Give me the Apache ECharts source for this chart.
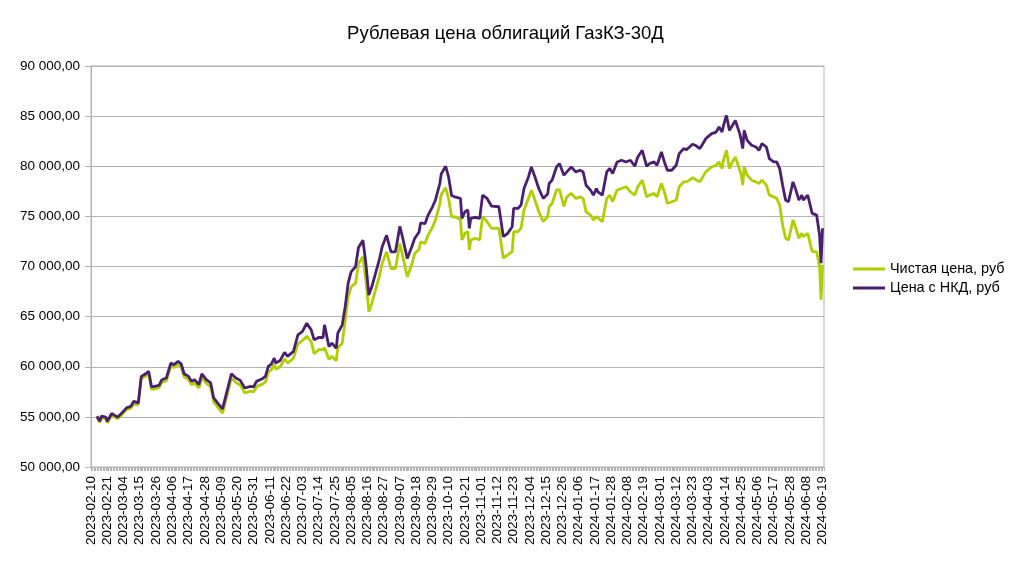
<!DOCTYPE html>
<html><head><meta charset="utf-8">
<script src="https://cdn.jsdelivr.net/npm/echarts@6/dist/echarts.min.js"></script>
<style>html,body{margin:0;padding:0;background:#fff}#c{width:1011px;height:568px}</style>
</head><body><div id="c"></div>
<script>
const chartTitle = 'Рублевая цена облигаций ГазКЗ-30Д';
const seriesNames = ['Чистая цена, руб', 'Цена с НКД, руб'];
const axisStart = '2023-02-10';
const axisEnd = '2024-06-20';
const yMin = 50000, yMax = 90000, yStep = 5000;

const dates = [
'2023-02-14','2023-02-16','2023-02-17','2023-02-20','2023-02-21','2023-02-24','2023-02-28','2023-03-01','2023-03-03','2023-03-06',
'2023-03-09','2023-03-11','2023-03-14','2023-03-16','2023-03-19','2023-03-21','2023-03-23','2023-03-25','2023-03-28','2023-03-30',
'2023-04-02','2023-04-05','2023-04-07','2023-04-10','2023-04-12','2023-04-14','2023-04-17','2023-04-19','2023-04-21','2023-04-24',
'2023-04-26','2023-04-29','2023-05-02','2023-05-04','2023-05-07','2023-05-10','2023-05-13','2023-05-16','2023-05-19','2023-05-22',
'2023-05-25','2023-05-29','2023-05-31','2023-06-02','2023-06-06','2023-06-08','2023-06-10','2023-06-12','2023-06-14','2023-06-15',
'2023-06-18','2023-06-21','2023-06-23','2023-06-27','2023-06-30','2023-07-03','2023-07-06','2023-07-09','2023-07-11','2023-07-14',
'2023-07-17','2023-07-18','2023-07-21','2023-07-23','2023-07-26','2023-07-27','2023-07-30','2023-08-01','2023-08-03','2023-08-05',
'2023-08-08','2023-08-10','2023-08-13','2023-08-15','2023-08-17','2023-08-19','2023-08-24','2023-08-26','2023-08-29','2023-09-01',
'2023-09-04','2023-09-07','2023-09-09','2023-09-12','2023-09-15','2023-09-17','2023-09-20','2023-09-21','2023-09-24','2023-09-26',
'2023-09-29','2023-10-01','2023-10-04','2023-10-05','2023-10-08','2023-10-10','2023-10-12','2023-10-14','2023-10-18','2023-10-19',
'2023-10-21','2023-10-23','2023-10-24','2023-10-25','2023-10-28','2023-10-31','2023-11-02','2023-11-05','2023-11-08','2023-11-13',
'2023-11-16','2023-11-19','2023-11-22','2023-11-23','2023-11-26','2023-11-28','2023-11-30','2023-12-03','2023-12-05','2023-12-07',
'2023-12-10','2023-12-13','2023-12-16','2023-12-17','2023-12-19','2023-12-22','2023-12-24','2023-12-27','2023-12-29','2024-01-01',
'2024-01-04','2024-01-07','2024-01-09','2024-01-11','2024-01-14','2024-01-16','2024-01-18','2024-01-19','2024-01-22','2024-01-25',
'2024-01-27','2024-01-29','2024-02-01','2024-02-04','2024-02-07','2024-02-10','2024-02-13','2024-02-15','2024-02-18','2024-02-21',
'2024-02-23','2024-02-26','2024-02-28','2024-03-02','2024-03-04','2024-03-06','2024-03-09','2024-03-12','2024-03-14','2024-03-17',
'2024-03-19','2024-03-21','2024-03-23','2024-03-25','2024-03-28','2024-03-30','2024-04-01','2024-04-05','2024-04-08','2024-04-10',
'2024-04-12','2024-04-13','2024-04-15','2024-04-16','2024-04-17','2024-04-19','2024-04-21','2024-04-24','2024-04-25','2024-04-26',
'2024-04-27','2024-04-29','2024-05-02','2024-05-05','2024-05-07','2024-05-09','2024-05-12','2024-05-14','2024-05-17','2024-05-19',
'2024-05-21','2024-05-23','2024-05-25','2024-05-27','2024-05-30','2024-06-01','2024-06-03','2024-06-05','2024-06-06','2024-06-09',
'2024-06-12','2024-06-15','2024-06-17','2024-06-18','2024-06-19'
];

const cleanPrice = [
54950,54450,54930,54830,54420,55170,54810,54730,55220,55710,
55860,56350,56190,58820,59080,59300,57740,57800,57890,58440,
58600,60100,59920,60240,60000,58990,58720,58210,58370,57860,
58940,58340,58000,56500,55930,55380,57120,58860,58430,58180,
57400,57560,57480,58020,58270,58480,59460,59680,60260,59760,
60000,60790,60370,60850,62290,62600,63050,62500,61300,61700,
61700,61900,60750,61050,60600,61900,62350,64600,66950,67980,
68310,70300,70960,68640,65490,66320,68970,70300,71460,69800,
69800,72290,71000,68970,70170,71290,71700,72450,72300,73110,
73900,74600,76200,77200,77850,76750,74950,74970,74700,72650,
73310,73480,71660,72650,72820,72650,74970,74470,73810,73810,
70830,71160,71490,73480,73480,73810,75630,76790,77620,76790,
75460,74470,74970,75960,76290,77620,77680,76000,76950,77290,
76790,76950,76790,75460,75130,74640,74970,74800,74470,76790,
77120,76460,77620,77780,77950,77450,77120,77950,78610,76950,
77120,77290,76950,78280,77450,76290,76460,76620,77950,78440,
78440,78610,78870,78680,78440,78940,79440,79930,80100,80430,
79770,80600,81590,81760,79770,80430,80930,79600,79110,78110,
79930,79110,78610,78440,78280,78610,78110,77120,76950,76790,
76130,74140,72820,72650,74640,73810,72820,73310,72980,73310,
71490,71490,70000,66690,70170
];

const dirtyPrice = [
55070,54570,55070,54970,54570,55330,54970,54900,55400,55900,
56060,56560,56400,59040,59300,59540,57980,58050,58150,58710,
58880,60370,60200,60530,60300,59300,59040,58540,58710,58210,
59300,58710,58380,56890,56330,55800,57550,59300,58880,58640,
57880,58050,57980,58540,58810,59040,60030,60270,60860,60370,
60630,61430,61030,61530,63180,63510,64340,63680,62680,62920,
62920,64180,62020,62350,61850,63350,64180,66000,68310,69470,
69970,71890,72620,70300,67150,67980,70630,71950,73110,71460,
71460,74010,72790,70800,71950,72790,73440,74340,74270,75100,
75930,76590,78250,79240,80000,78910,77090,76950,76790,74800,
75460,75630,73810,74800,74900,74800,77120,76790,76030,75960,
72980,73310,73970,75800,75800,76130,77780,78940,79930,79110,
77780,76790,77220,78280,78610,79930,80270,79110,79440,79930,
79440,79600,79440,78110,77620,77120,77780,77450,77120,79440,
79770,79270,80430,80600,80430,80600,80000,80930,81590,80000,
80270,80430,80100,81420,80430,79600,79600,80100,81260,81760,
81660,81920,82190,82090,81760,82250,82750,83250,83410,83910,
83410,84070,85070,85230,83580,84070,84570,83250,82580,81760,
83580,82580,82090,81920,81590,82250,81920,80760,80430,80430,
79770,78110,76620,76460,78440,77620,76620,77120,76620,77120,
75300,75130,73150,70330,73810
];

// category list: one entry per calendar day
const cats = [];
for (let t = Date.parse(axisStart); t <= Date.parse(axisEnd); t += 86400000) {
  cats.push(new Date(t).toISOString().slice(0, 10));
}
const pos = {};
cats.forEach((c, i) => pos[c] = i);
function align(vals) {
  const a = new Array(cats.length).fill(null);
  dates.forEach((d, i) => { a[pos[d]] = vals[i]; });
  return a;
}
function fmt(v) {
  return String(Math.round(v)).replace(/\B(?=(\d{3})+(?!\d))/g, ' ') + ',00';
}

const FONT = '"Liberation Sans", Arial, sans-serif';
const GRAY = '#b3b3b3';
const chart = echarts.init(document.getElementById('c'), null, {renderer: 'canvas'});
chart.setOption({
  animation: false,
  backgroundColor: '#fff',
  title: {
    text: chartTitle, left: 'center', top: 19,
    textStyle: {fontFamily: FONT, fontSize: 18.5, fontWeight: 'normal', color: '#000'}
  },
  legend: {
    orient: 'vertical', left: 853, top: 262, padding: 0,
    icon: 'rect', itemWidth: 32, itemHeight: 3, itemGap: 5,
    textStyle: {fontFamily: FONT, fontSize: 14.4, color: '#000'},
    data: seriesNames
  },
  grid: {left: 91, right: 187, top: 66, bottom: 101, show: true, borderColor: GRAY, borderWidth: 1, containLabel: false},
  xAxis: {
    type: 'category', data: cats, boundaryGap: false,
    axisLine: {lineStyle: {color: GRAY, width: 1}},
    axisTick: {show: true, interval: 0, length: 4, lineStyle: {color: GRAY}},
    axisLabel: {interval: 10, rotate: 90, margin: 9, fontFamily: FONT, fontSize: 13.5, color: '#000'},
    splitLine: {show: false}
  },
  yAxis: {
    type: 'value', min: yMin, max: yMax, interval: yStep,
    axisLine: {show: true, lineStyle: {color: GRAY, width: 1}},
    axisTick: {show: true, length: 6, lineStyle: {color: GRAY}},
    axisLabel: {margin: 11, fontFamily: FONT, fontSize: 13.5, color: '#000', formatter: fmt},
    splitLine: {show: true, lineStyle: {color: GRAY, width: 1}}
  },
  series: [
    {name: seriesNames[0], type: 'line', data: align(cleanPrice), connectNulls: true, showSymbol: false, symbol: 'none',
     color: '#aecf00', lineStyle: {color: '#aecf00', width: 2.8}},
    {name: seriesNames[1], type: 'line', data: align(dirtyPrice), connectNulls: true, showSymbol: false, symbol: 'none',
     color: '#4b1f6f', lineStyle: {color: '#4b1f6f', width: 2.8}}
  ]
});
</script></body></html>
